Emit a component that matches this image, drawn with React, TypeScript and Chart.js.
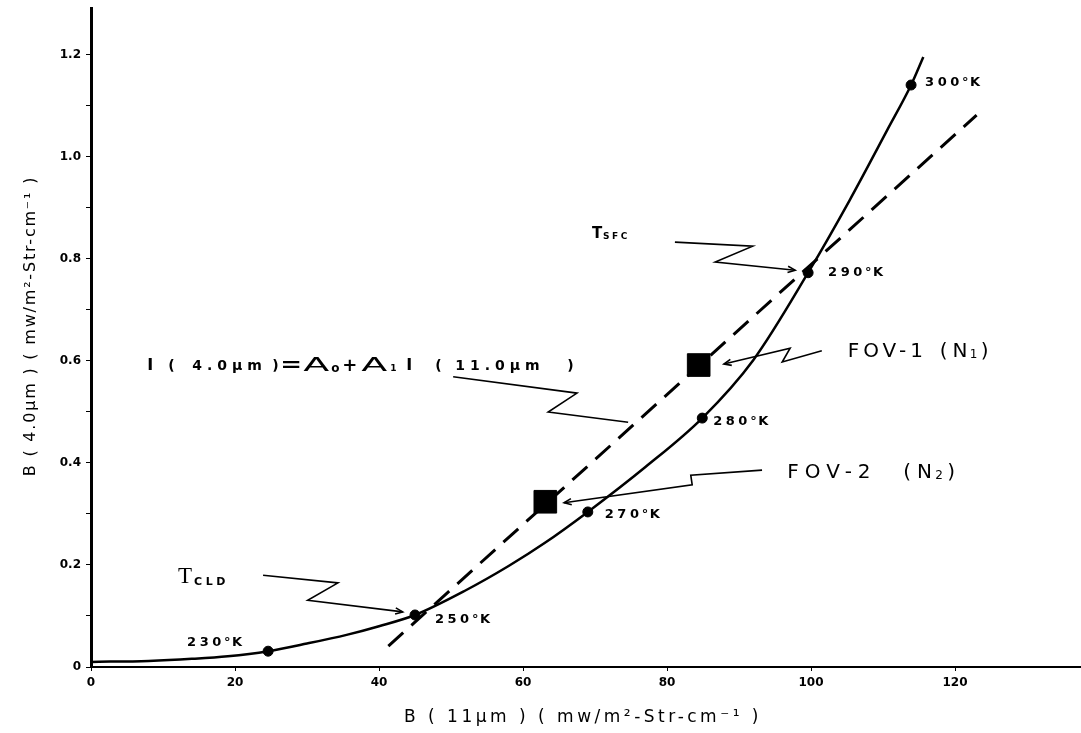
import React, { useEffect, useRef } from 'react';
import { Chart, registerables } from 'chart.js';

Chart.register(...registerables);

// ---- data (x = B(11um), y = B(4.0um)) ----
const curveX = [0, 8, 14, 19, 24.6, 30, 35.5, 40, 45, 52, 58, 63, 69, 77, 84.9, 92, 99.6, 105.4, 110.6, 113.9, 115.6];
const curveY = [0.010, 0.012, 0.016, 0.021, 0.031, 0.046, 0.063, 0.080, 0.102, 0.150, 0.198, 0.243, 0.304, 0.392, 0.488, 0.602, 0.773, 0.916, 1.053, 1.141, 1.196];

const tempX = [24.6, 45, 69, 84.9, 99.6, 113.9];
const tempY = [0.031, 0.102, 0.304, 0.488, 0.773, 1.141];
const tempLabels = ['230°K', '250°K', '270°K', '280°K', '290°K', '300°K'];

const fitX = [41.3, 123.0];
const fitY = [0.041, 1.082];

const fovX = [84.4, 63.1];
const fovY = [0.592, 0.324];

const xTickValues = [0, 20, 40, 60, 80, 100, 120];
const yTickLabelValues = [0, 0.2, 0.4, 0.6, 0.8, 1.0, 1.2];

// leader lines (data coordinates)
const leaderTsfc = [[81.1, 0.833], [91.9, 0.825], [86.7, 0.794], [97.8, 0.778]];
const leaderTcld = [[23.9, 0.180], [34.3, 0.165], [30.1, 0.131], [43.3, 0.108]];
const leaderEq = [[50.3, 0.569], [67.5, 0.537], [63.5, 0.500], [74.6, 0.480]];
const leaderFov1 = [[101.5, 0.620], [96.0, 0.598], [97.1, 0.625], [87.9, 0.594]];
const leaderFov2 = [[93.2, 0.386], [83.3, 0.376], [83.5, 0.357], [65.7, 0.322]];

// label anchors (data coordinates, left/middle)
const anchorTsfc = [69.6, 0.848];
const anchorTcld = [12.1, 0.176];
const anchorEq = [7.8, 0.590];
const anchorFov1 = [105.1, 0.618];
const anchorFov2 = [96.7, 0.380];

const xTitle = 'B ( 11μm ) ( mw/m²-Str-cm⁻¹ )';
const yTitle = 'B ( 4.0μm ) ( mw/m²-Str-cm⁻¹ )';

// style: pixel offsets of temperature labels from their dots
const tempLabelOffsets = [[-81, -9], [20, 5], [17, 3], [11, 4], [20, 0], [14, -2]];

type Seg = { t: string; f: string; dx: number; dy?: number; ls?: string; sx?: number };

function drawSegs(ctx: CanvasRenderingContext2D, segs: Seg[], x: number, y: number) {
  for (const s of segs) {
    ctx.save();
    ctx.font = s.f;
    (ctx as any).letterSpacing = s.ls || '0px';
    ctx.translate(x + s.dx, y + (s.dy || 0));
    if (s.sx) ctx.scale(s.sx, 1);
    ctx.fillText(s.t, 0, 0);
    ctx.restore();
  }
}

const annotationPlugin = {
  id: 'paperAnnotations',
  afterDatasetsDraw(chart: any) {
    const { ctx, scales } = chart;
    const xs = scales.x;
    const ys = scales.y;
    const P = (p: number[]) => [xs.getPixelForValue(p[0]), ys.getPixelForValue(p[1])];
    ctx.save();
    ctx.strokeStyle = '#000';
    ctx.fillStyle = '#000';
    ctx.lineWidth = 1.6;
    ctx.lineJoin = 'miter';

    const leaders: [number[][], boolean][] = [
      [leaderTsfc, true],
      [leaderTcld, true],
      [leaderEq, false],
      [leaderFov1, true],
      [leaderFov2, true],
    ];
    for (const [pts, arrow] of leaders) {
      const pp = pts.map(P);
      ctx.beginPath();
      ctx.moveTo(pp[0][0], pp[0][1]);
      for (let i = 1; i < pp.length; i++) ctx.lineTo(pp[i][0], pp[i][1]);
      ctx.stroke();
      if (arrow) {
        const a = pp[pp.length - 2];
        const b = pp[pp.length - 1];
        const ang = Math.atan2(b[1] - a[1], b[0] - a[0]);
        const L = 8;
        ctx.beginPath();
        ctx.moveTo(b[0] - L * Math.cos(ang - 0.4), b[1] - L * Math.sin(ang - 0.4));
        ctx.lineTo(b[0], b[1]);
        ctx.lineTo(b[0] - L * Math.cos(ang + 0.4), b[1] - L * Math.sin(ang + 0.4));
        ctx.stroke();
      }
    }

    ctx.textBaseline = 'middle';
    ctx.textAlign = 'left';

    // temperature labels
    tempLabels.forEach((lab, i) => {
      const [px, py] = P([tempX[i], tempY[i]]);
      const [dx, dy] = tempLabelOffsets[i];
      const num = lab.slice(0, 3);
      drawSegs(ctx, [
        { t: num, f: 'bold 13px "DejaVu Sans"', dx, dy, ls: '3.5px' },
        { t: '°K', f: 'bold 13px "DejaVu Sans"', dx: dx + 37, dy, ls: '1.5px' },
      ], px, py);
    });

    // T_SFC
    let a = P(anchorTsfc);
    drawSegs(ctx, [
      { t: 'T', f: 'bold 15px "DejaVu Sans"', dx: 0 },
      { t: 'SFC', f: 'bold 9px "DejaVu Sans"', dx: 11, dy: 2, ls: '2.5px' },
    ], a[0], a[1]);

    // T_CLD
    a = P(anchorTcld);
    drawSegs(ctx, [
      { t: 'T', f: '23px "Liberation Serif"', dx: 0 },
      { t: 'CLD', f: 'bold 11px "DejaVu Sans"', dx: 16, dy: 5, ls: '3.5px' },
    ], a[0], a[1]);

    // Equation
    a = P(anchorEq);
    drawSegs(ctx, [
      { t: 'I', f: 'bold 16px "DejaVu Sans"', dx: 0 },
      { t: '(', f: 'bold 14px "DejaVu Sans"', dx: 21 },
      { t: '4.0μm', f: 'bold 14px "DejaVu Sans"', dx: 45, ls: '5px' },
      { t: ')', f: 'bold 14px "DejaVu Sans"', dx: 125 },
      { t: '=', f: 'bold 20px "DejaVu Sans"', dx: 133, sx: 1.3 },
      { t: 'A', f: '19px "DejaVu Sans"', dx: 156, sx: 2.0 },
      { t: 'o', f: 'bold 12px "DejaVu Sans"', dx: 184, dy: 3 },
      { t: '+', f: 'bold 18px "DejaVu Sans"', dx: 195 },
      { t: 'A', f: '19px "DejaVu Sans"', dx: 214, sx: 2.0 },
      { t: '1', f: 'bold 9px "DejaVu Sans"', dx: 243, dy: 3 },
      { t: 'I', f: 'bold 16px "DejaVu Sans"', dx: 259 },
      { t: '(', f: 'bold 14px "DejaVu Sans"', dx: 288 },
      { t: '11.0μm', f: 'bold 14px "DejaVu Sans"', dx: 308, ls: '5px' },
      { t: ')', f: 'bold 14px "DejaVu Sans"', dx: 420 },
    ], a[0], a[1]);

    // FOV labels
    a = P(anchorFov1);
    drawSegs(ctx, [
      { t: 'FOV-1', f: '20px "DejaVu Sans"', dx: 0, ls: '4px' },
      { t: '(N', f: '20px "DejaVu Sans"', dx: 92, ls: '5px' },
      { t: '1', f: '12px "DejaVu Sans"', dx: 122, dy: 3 },
      { t: ')', f: '20px "DejaVu Sans"', dx: 133 },
    ], a[0], a[1]);
    a = P(anchorFov2);
    drawSegs(ctx, [
      { t: 'FOV-2', f: '20px "DejaVu Sans"', dx: 0, ls: '6px' },
      { t: '(N', f: '20px "DejaVu Sans"', dx: 116, ls: '6px' },
      { t: '2', f: '12px "DejaVu Sans"', dx: 148, dy: 3 },
      { t: ')', f: '20px "DejaVu Sans"', dx: 160 },
    ], a[0], a[1]);

    ctx.restore();
  },
  afterDraw(chart: any) {
    const { ctx, chartArea } = chart;
    ctx.save();
    ctx.fillStyle = '#000';
    ctx.textAlign = 'center';
    ctx.textBaseline = 'middle';
    ctx.font = '17px "DejaVu Sans"';
    (ctx as any).letterSpacing = '3.5px';
    ctx.fillText(xTitle, 583, chartArea.bottom + 51);
    ctx.translate(31, 326);
    ctx.rotate(-Math.PI / 2);
    ctx.font = '16px "DejaVu Sans"';
    (ctx as any).letterSpacing = '1.8px';
    ctx.fillText(yTitle, 0, 0);
    (ctx as any).letterSpacing = '0px';
    ctx.restore();
  },
};

export default function App() {
  const ref = useRef<HTMLCanvasElement | null>(null);
  useEffect(() => {
    if (!ref.current) return;
    const curve = curveX.map((x, i) => ({ x, y: curveY[i] }));
    const temps = tempX.map((x, i) => ({ x, y: tempY[i] }));
    const fit = fitX.map((x, i) => ({ x, y: fitY[i] }));
    const fovs = fovX.map((x, i) => ({ x, y: fovY[i] }));
    const chart = new Chart(ref.current, {
      type: 'scatter',
      data: {
        datasets: [
          {
            type: 'line',
            data: fit,
            borderColor: '#000',
            borderWidth: 3,
            borderDash: [20, 11],
            pointRadius: 0,
            fill: false,
          } as any,
          {
            type: 'line',
            data: curve,
            borderColor: '#000',
            borderWidth: 2.5,
            pointRadius: 0,
            cubicInterpolationMode: 'monotone',
            fill: false,
          } as any,
          {
            type: 'scatter',
            data: temps,
            pointRadius: 5,
            backgroundColor: '#000',
            borderColor: '#000',
          },
          {
            type: 'scatter',
            data: fovs,
            pointStyle: 'rect',
            pointRadius: 16,
            backgroundColor: '#000',
            borderColor: '#000',
          },
        ],
      },
      options: {
        responsive: false,
        animation: false,
        devicePixelRatio: 1,
        layout: { autoPadding: false, padding: { top: 8, right: 0, left: 0, bottom: 0 } },
        plugins: { legend: { display: false }, tooltip: { enabled: false } },
        scales: {
          x: {
            type: 'linear',
            min: 0,
            max: 137.5,
            border: { display: true, color: '#000', width: 2 },
            grid: { display: true, drawOnChartArea: false, drawTicks: true, tickLength: 4, color: '#000' },
            afterBuildTicks: (s: any) => { s.ticks = xTickValues.map((v) => ({ value: v })); },
            ticks: {
              color: '#000',
              padding: 5,
              maxRotation: 0,
              font: { family: '"DejaVu Sans"', size: 12, weight: 'bold' },
              callback: (v: any) => String(v),
            },
            afterFit: (s: any) => { s.height = 66; s.paddingLeft = 0; s.paddingRight = 0; },
          },
          y: {
            type: 'linear',
            min: 0,
            max: 1.292,
            border: { display: true, color: '#000', width: 3 },
            grid: { display: true, drawOnChartArea: false, drawTicks: true, tickLength: 5, color: '#000' },
            afterBuildTicks: (s: any) => {
              const t: any[] = [];
              for (let i = 0; i <= 12; i++) t.push({ value: i / 10 });
              s.ticks = t;
            },
            ticks: {
              color: '#000',
              padding: 5,
              font: { family: '"DejaVu Sans"', size: 12, weight: 'bold' },
              callback: (v: any) => {
                const k = Math.round(Number(v) * 10);
                const hit = yTickLabelValues.find((q) => Math.round(q * 10) === k);
                if (hit === undefined) return '';
                return k === 0 ? '0' : hit.toFixed(1);
              },
            },
            afterFit: (s: any) => { s.width = 91; s.paddingTop = 0; s.paddingBottom = 0; },
          },
        },
      },
      plugins: [annotationPlugin],
    });
    return () => chart.destroy();
  }, []);
  return (
    <div style={{ position: 'absolute', left: 0, top: 0, width: 1081, height: 733, background: '#fff' }}>
      <canvas ref={ref} width={1081} height={733} style={{ display: 'block' }} />
    </div>
  );
}
